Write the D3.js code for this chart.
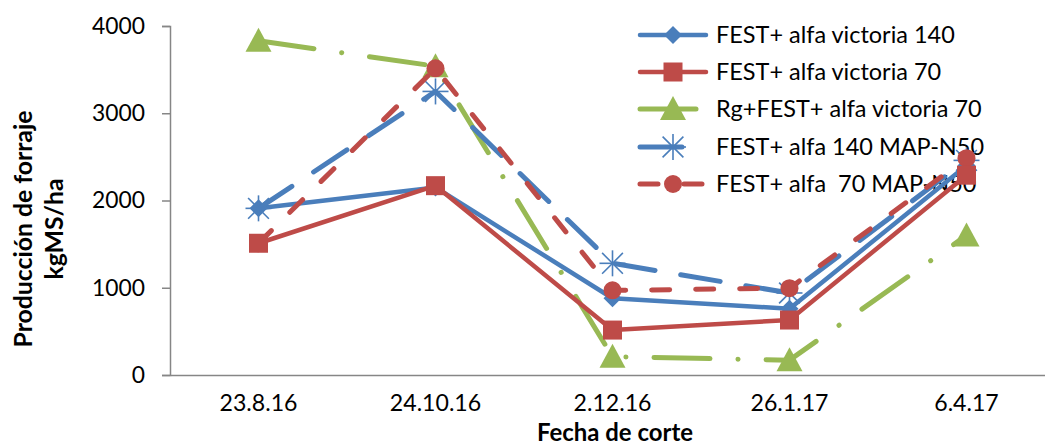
<!DOCTYPE html>
<html><head><meta charset="utf-8">
<script src="https://cdn.jsdelivr.net/npm/d3@7"></script>
<style>
html,body{margin:0;padding:0;background:#fff;}
text{font-family:Lato,"Open Sans",sans-serif;fill:#000;white-space:pre;}
</style></head>
<body><svg id="c" width="1045" height="445"></svg>
<script>
const categories = ["23.8.16","24.10.16","2.12.16","26.1.17","6.4.17"];
const seriesNames = ["FEST+ alfa victoria 140","FEST+ alfa victoria 70","Rg+FEST+ alfa victoria 70","FEST+ alfa 140 MAP-N50","FEST+ alfa  70 MAP-N50"];
const s1 = [1910, 2150, 880, 760, 2400];
const s2 = [1510, 2170, 515, 630, 2290];
const s3 = [3830, 3540, 210, 170, 1600];
const s4 = [1910, 3250, 1280, 940, 2460];
const s5 = [1510, 3515, 970, 995, 2485];
const yTicks = [0, 1000, 2000, 3000, 4000];

const seriesValues = [s1, s2, s3, s4, s5];
const styles = [
  {color:"#4a7ebb", dash:null, marker:"diamond", w:4.5},
  {color:"#be4b48", dash:null, marker:"square", w:4.5},
  {color:"#98b954", dash:"56,28,0.1,28", marker:"triangle", w:5},
  {color:"#4a7ebb", dash:"40,26", marker:"star", w:5},
  {color:"#be4b48", dash:"18,26", marker:"circle", w:5}
];
const drawOrder = [0, 2, 3, 4, 1];

const svg = d3.select("#c");
const x = d3.scaleBand().domain(categories).range([170, 1055]);
const y = d3.scaleLinear().domain([0, 4000]).range([375, 26]);

function fitSize(sel, target, base){
  sel.attr("font-size", base);
  const w = sel.node().getComputedTextLength();
  return base * target / w;
}

// axes
const yAxis = svg.append("g").attr("transform","translate(170,0)")
  .call(d3.axisLeft(y).tickValues(yTicks).tickSize(8).tickPadding(17).tickFormat(d3.format("d")));
yAxis.select(".domain").attr("stroke","#868686").attr("stroke-width",1.5);
yAxis.selectAll(".tick line").attr("stroke","#868686").attr("stroke-width",1.5);
const yTxt = yAxis.selectAll(".tick text").attr("font-family","Lato,sans-serif").attr("fill","#000");
const tickSize = fitSize(yAxis.selectAll(".tick text").filter(d=>d===4000), 53, 20);
yTxt.attr("font-size", tickSize);

const xAxis = svg.append("g").attr("transform","translate(0,375)")
  .call(d3.axisBottom(x).tickSize(0).tickPadding(20));
xAxis.select(".domain").attr("stroke","#868686").attr("stroke-width",1.5);
xAxis.selectAll(".tick text").attr("font-family","Lato,sans-serif").attr("fill","#000");
const xtSize = fitSize(xAxis.selectAll(".tick text").filter(d=>d==="23.8.16"), 78, 20);
xAxis.selectAll(".tick text").attr("font-size", xtSize);

// titles
const xt = svg.append("text").attr("x",615).attr("y",440.5).attr("text-anchor","middle")
  .attr("font-weight","bold").text("Fecha de corte");
xt.attr("font-size", fitSize(xt, 156, 20));
const yt = svg.append("text").attr("transform","translate(0,229) rotate(-90)").attr("text-anchor","middle")
  .attr("font-weight","bold");
const t1 = yt.append("tspan").attr("x",0).attr("y",32).text("Producción de forraje");
yt.append("tspan").attr("x",0).attr("y",63).text("kgMS/ha");
yt.attr("font-size", 20);
const l1 = t1.node().getComputedTextLength();
yt.attr("font-size", 20*237/l1);

function drawMarker(g, type, cx, cy, color){
  if(type==="diamond"){
    g.append("path").attr("d",`M${cx},${cy-9}L${cx+9},${cy}L${cx},${cy+9}L${cx-9},${cy}Z`).attr("fill",color);
  } else if(type==="square"){
    g.append("rect").attr("x",cx-9.5).attr("y",cy-9.5).attr("width",19).attr("height",19).attr("fill",color);
  } else if(type==="triangle"){
    g.append("path").attr("d",`M${cx},${cy-13}L${cx+13},${cy+11}L${cx-13},${cy+11}Z`).attr("fill",color);
  } else if(type==="circle"){
    g.append("circle").attr("cx",cx).attr("cy",cy).attr("r",9).attr("fill",color);
  } else if(type==="star"){
    const r=13;
    const segs=[[0,-r,0,r],[-r*0.8,-r*0.8,r*0.8,r*0.8],[-r*0.8,r*0.8,r*0.8,-r*0.8],[-r,0,r,0]];
    segs.forEach(s=>g.append("line").attr("x1",cx+s[0]).attr("y1",cy+s[1]).attr("x2",cx+s[2]).attr("y2",cy+s[3])
      .attr("stroke",color).attr("stroke-width",1.6));
  }
}

// legend
const leg = svg.append("g");
const legY = [35, 72, 109, 147, 184];
const legTexts = [];
seriesNames.forEach((n,i)=>{
  const st = styles[i];
  const lg = leg.append("g");
  lg.append("line").attr("x1",640).attr("x2",706).attr("y1",legY[i]).attr("y2",legY[i])
    .attr("stroke",st.color).attr("stroke-width",st.w).attr("stroke-linecap","round")
    .attr("stroke-dasharray", i===2?"56,28":(i===3?"42,26":(i===4?"18,26":null)));
  drawMarker(lg, st.marker, 673, legY[i], st.color);
  legTexts.push(lg.append("text").attr("x",716).attr("y",legY[i]+8).text(n));
});
const legSize = fitSize(legTexts[0], 239, 20);
legTexts.forEach(t=>t.attr("font-size", legSize));

// series
const line = d3.line().x((d,i)=>x(categories[i])+x.bandwidth()/2).y(d=>y(d));
drawOrder.forEach(i=>{
  const vals = seriesValues[i];
  const st = styles[i];
  const g = svg.append("g");
  g.append("path").attr("d",line(vals)).attr("fill","none").attr("stroke",st.color)
    .attr("stroke-width",st.w).attr("stroke-linecap","round").attr("stroke-linejoin","round")
    .attr("stroke-dasharray",st.dash);
  vals.forEach((v,j)=>drawMarker(g, st.marker, x(categories[j])+x.bandwidth()/2, y(v), st.color));
});
</script></body></html>
